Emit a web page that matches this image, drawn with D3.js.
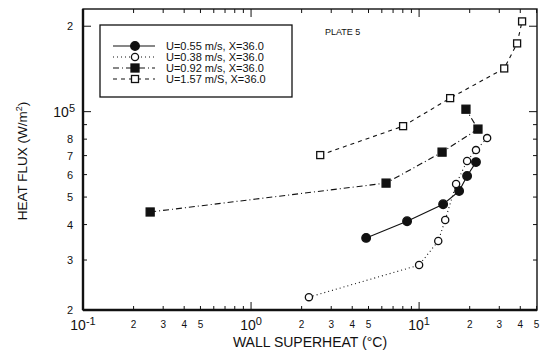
<!DOCTYPE html>
<html>
<head>
<meta charset="utf-8">
<script src="https://cdn.jsdelivr.net/npm/d3@7"></script>
<style>
  body { margin: 0; background: #fff; }
  text { font-family: "Liberation Sans", Arial, sans-serif; fill: #111; }
</style>
</head>
<body>
<div id="chart"></div>
<script>
// series data (wall superheat in C, heat flux in W/m2)
const u055X = [4.84, 8.48, 13.9, 17.3, 19.3, 21.8];
const u055Y = [35900, 41100, 47200, 52500, 59300, 66400];

const u038X = [2.21, 10.0, 13.0, 14.3, 16.6, 19.3, 21.8, 25.4];
const u038Y = [22200, 28800, 35000, 41500, 55600, 67000, 73200, 80700];

const u092X = [0.251, 6.36, 13.7, 22.4, 19.0];
const u092Y = [44300, 56000, 72000, 86800, 102000];

const u157X = [2.58, 8.03, 15.3, 32.1, 38.3, 41.0];
const u157Y = [70300, 88900, 111600, 142000, 174000, 208000];

const seriesNames = ["U=0.55 m/s, X=36.0", "U=0.38 m/s, X=36.0", "U=0.92 m/s, X=36.0", "U=1.57 m/S, X=36.0"];

// tick labels
const xMajor = [0.1, 1, 10];
const xMajorExp = ["-1", "0", "1"];
const xMinorLabeled = [0.2, 0.3, 0.4, 0.5, 2, 3, 4, 5, 20, 30, 40, 50];
const xMinorText = ["2", "3", "4", "5", "2", "3", "4", "5", "2", "3", "4", "5"];
const yLabeled = [20000, 30000, 40000, 50000, 60000, 70000, 80000, 200000];
const yLabelText = ["2", "3", "4", "5", "6", "7", "8", "2"];

const W = 541, H = 359;
const margin = { top: 9, right: 4, bottom: 49, left: 83 };
const width = W - margin.left - margin.right;
const height = H - margin.top - margin.bottom;

const svg = d3.select("#chart").append("svg")
    .attr("width", W).attr("height", H);

const g = svg.append("g")
    .attr("transform", `translate(${margin.left},${margin.top})`);

// log scales
const x = d3.scaleLog().domain([0.1, 50.3]).range([0, width]);
const y = d3.scaleLog().domain([20000, 230000]).range([height, 0]);

// all the tick positions
let xTicks = [];
[0.1, 1, 10].forEach(d => { for (let k = 1; k < 10; k++) { if (d * k <= 50) xTicks.push(d * k); } });
let yTicks = [];
[10000, 100000].forEach(d => { for (let k = 1; k < 10; k++) { let v = d * k; if (v >= 20000 && v <= 230000) yTicks.push(v); } });
const isMajor = v => Math.abs(Math.log10(v) - Math.round(Math.log10(v))) < 1e-6;

// frame
g.append("rect")
    .attr("x", 0).attr("y", 0)
    .attr("width", width).attr("height", height)
    .attr("fill", "none").attr("stroke", "#111").attr("stroke-width", 1.4);
g.append("line").attr("x1", 0).attr("x2", 0).attr("y1", 0).attr("y2", height)
    .attr("stroke", "#111").attr("stroke-width", 2.4);
g.append("line").attr("x1", 0).attr("x2", width).attr("y1", height).attr("y2", height)
    .attr("stroke", "#111").attr("stroke-width", 2.4);

// inward ticks on all four sides
xTicks.forEach(v => {
    let len = isMajor(v) ? 8 : 4;
    g.append("line").attr("x1", x(v)).attr("x2", x(v)).attr("y1", height).attr("y2", height - len)
        .attr("stroke", "#111").attr("stroke-width", 1);
    g.append("line").attr("x1", x(v)).attr("x2", x(v)).attr("y1", 0).attr("y2", len)
        .attr("stroke", "#111").attr("stroke-width", 1);
});
yTicks.forEach(v => {
    let len = (isMajor(v) || v === 20000 || v === 200000) ? 8 : 4;
    g.append("line").attr("x1", 0).attr("x2", len).attr("y1", y(v)).attr("y2", y(v))
        .attr("stroke", "#111").attr("stroke-width", 1);
    g.append("line").attr("x1", width).attr("x2", width - len).attr("y1", y(v)).attr("y2", y(v))
        .attr("stroke", "#111").attr("stroke-width", 1);
});

// x tick labels
xMajor.forEach((v, i) => {
    let t = g.append("text")
        .attr("x", x(v)).attr("y", height + 20)
        .attr("text-anchor", "middle")
        .style("font-size", "14px");
    t.append("tspan").text("10");
    t.append("tspan").attr("dy", -5).style("font-size", "11px").text(xMajorExp[i]);
});
xMinorLabeled.forEach((v, i) => {
    g.append("text")
        .attr("x", x(v)).attr("y", height + 18)
        .attr("text-anchor", "middle")
        .style("font-size", "10px")
        .text(xMinorText[i]);
});

// y tick labels
yLabeled.forEach((v, i) => {
    g.append("text")
        .attr("x", -10).attr("y", y(v) + 4)
        .attr("text-anchor", "end")
        .style("font-size", "11px")
        .text(yLabelText[i]);
});
let y5 = g.append("text")
    .attr("x", -8).attr("y", y(100000) + 5)
    .attr("text-anchor", "end")
    .style("font-size", "14px");
y5.append("tspan").text("10");
y5.append("tspan").attr("dy", -5).style("font-size", "11px").text("5");

// axis titles
svg.append("text")
    .attr("x", 310).attr("y", H - 12)
    .attr("text-anchor", "middle")
    .style("font-size", "14px")
    .text("WALL SUPERHEAT (\u00B0C)");

let yt = svg.append("text")
    .attr("transform", `translate(27, 161) rotate(-90)`)
    .attr("text-anchor", "middle")
    .style("font-size", "13.5px");
yt.append("tspan").text("HEAT FLUX (W/m");
yt.append("tspan").attr("dy", -5).style("font-size", "9px").text("2");
yt.append("tspan").attr("dy", 5).text(")");

// PLATE label
g.append("text")
    .attr("x", x(2.75)).attr("y", y(200000) + 9)
    .style("font-size", "9px")
    .text("PLATE 5");

// series definitions
const series = [
    { xs: u055X, ys: u055Y, dash: null, marker: "circle", fill: "#111" },
    { xs: u038X, ys: u038Y, dash: "1,3", marker: "circle", fill: "#fff" },
    { xs: u092X, ys: u092Y, dash: "6,3,1,3", marker: "square", fill: "#111" },
    { xs: u157X, ys: u157Y, dash: "4,4", marker: "square", fill: "#fff" }
];

const line = d3.line().x(d => x(d[0])).y(d => y(d[1]));

function drawMarker(sel, s, cx, cy) {
    if (s.marker === "circle") {
        sel.append("circle").attr("cx", cx).attr("cy", cy)
            .attr("r", s.fill === "#fff" ? 3.6 : 4.3)
            .attr("fill", s.fill).attr("stroke", "#111").attr("stroke-width", 1.3);
    } else {
        let sz = s.fill === "#fff" ? 7 : 8;
        sel.append("rect").attr("x", cx - sz / 2).attr("y", cy - sz / 2)
            .attr("width", sz).attr("height", sz)
            .attr("fill", s.fill).attr("stroke", "#111").attr("stroke-width", 1.3);
    }
}

series.forEach(s => {
    let pts = s.xs.map((v, i) => [v, s.ys[i]]);
    g.append("path")
        .datum(pts)
        .attr("d", line)
        .attr("fill", "none")
        .attr("stroke", "#111")
        .attr("stroke-width", 1.1)
        .attr("stroke-dasharray", s.dash);
    pts.forEach(p => drawMarker(g, s, x(p[0]), y(p[1])));
});

// legend
const legend = svg.append("g").attr("transform", "translate(100,25)");
legend.append("rect")
    .attr("width", 192).attr("height", 72)
    .attr("fill", "#fff").attr("stroke", "#111").attr("stroke-width", 1.3);

series.forEach((s, i) => {
    let ly = 21 + i * 11;
    legend.append("line")
        .attr("x1", 13).attr("x2", 55).attr("y1", ly).attr("y2", ly)
        .attr("stroke", "#111").attr("stroke-width", 1.1)
        .attr("stroke-dasharray", s.dash);
    drawMarker(legend, s, 35, ly);
    legend.append("text")
        .attr("x", 66).attr("y", ly + 4)
        .style("font-size", "11px")
        .text(seriesNames[i]);
});
</script>
</body>
</html>
